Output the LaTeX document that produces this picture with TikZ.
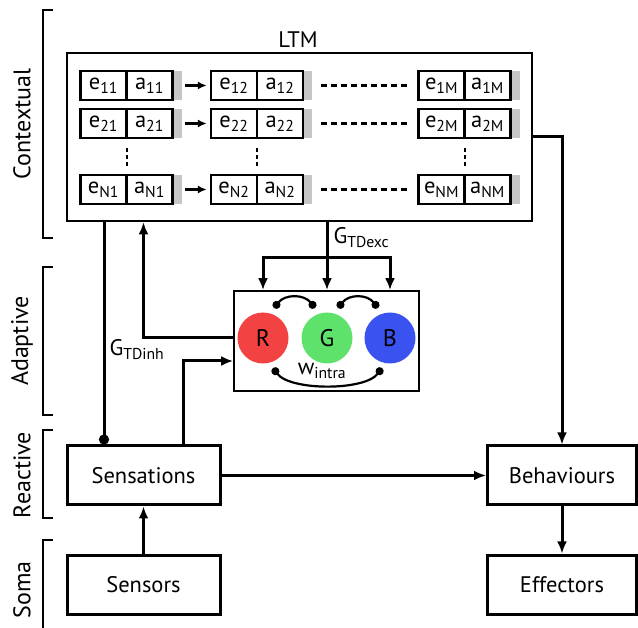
\documentclass[tikz,border=0pt]{standalone}
\usepackage{fontspec}
\setmainfont{PT Sans}
\usetikzlibrary{arrows.meta}

\definecolor{rred}{RGB}{243,66,66}
\definecolor{ggreen}{RGB}{94,226,108}
\definecolor{bblue}{RGB}{58,82,240}

\begin{document}
\begin{tikzpicture}[x=1pt, y=-1pt, font=\fontsize{22.5}{26}\selectfont,
    box/.style = {draw, line width=3pt, minimum width=153pt, minimum height=59pt},
    cell/.style = {draw, line width=2.4pt, minimum width=46pt, minimum height=29pt, inner sep=0pt},
    neuron/.style = {circle, minimum size=51pt, inner sep=0pt, font=\fontsize{24}{26}\selectfont},
    layer/.style = {rotate=90, font=\fontsize{24}{26}\selectfont},
    bracket/.style = {line width=2.2pt},
    tip/.style = {-{Latex[length=12pt, width=10pt]}, line width=3pt},
    rowtip/.style = {-{Latex[length=9pt, width=8pt]}, line width=2.2pt},
    dotted end/.style = {-{Circle[length=10pt]}, line width=3pt},
    synapse/.style = {{Circle[length=8pt]}-{Circle[length=8pt]}, line width=2.2pt},
    dashline/.style = {line width=2.2pt, dash pattern=on 6pt off 4pt},
    vdots/.style = {line width=2pt, dash pattern=on 4pt off 3pt}]
  \useasboundingbox (0,0) rectangle (638,628);

  % layers
  \draw[bracket] (53,10) -- (43,10) -- (43,238) -- (53,238);
  \draw[bracket] (53,267) -- (43,267) -- (43,415) -- (53,415);
  \draw[bracket] (53,430) -- (43,430) -- (43,518) -- (53,518);
  \draw[bracket] (53,540) -- (43,540) -- (43,628);
  \node[layer] (ctx) at (22,124) {Contextual};
  \node[layer] (adp) at (22,341) {Adaptive};
  \node[layer] (rct) at (22,475) {Reactive};
  \node[layer] (som) at (22,590) {Soma};

  % LTM
  \node[draw, line width=2.6pt, minimum width=465pt, minimum height=168pt] (ltm) at (299.5,137) {};
  \node (ltmlabel) at (298,40) {LTM};
  \foreach \r/\y in {1/85.5, 2/123.5, N/189.5}
    \foreach \c/\x in {1/103.5, 2/234, M/441.5} {
      \fill[gray!45] ({\x+69},{\y-14.5}) rectangle ++(9,29);
      \node[cell] (e\r\c) at (\x,\y) {e\textsubscript{\r\c}};
      \node[cell] (a\r\c) at ({\x+46},\y) {a\textsubscript{\r\c}};
    }
  \foreach \r in {1,2,N} {
    \draw[rowtip] ([xshift=11pt]a\r1.east) -- ([xshift=-3pt]e\r2.west);
    \draw[dashline] ([xshift=17pt]a\r2.east) -- ([xshift=-8pt]e\r M.west);
  }
  \foreach \x in {126.5,257,465}
    \draw[vdots] (\x,148) -- (\x,167);

  % RGB
  \node[draw, line width=1.8pt, minimum width=185pt, minimum height=100pt] (rgb) at (326.5,341) {};
  \node[neuron, fill=rred] (R) at (263,338) {R};
  \node[neuron, fill=ggreen] (G) at (327,338) {G};
  \node[neuron, fill=bblue] (B) at (390,338) {B};
  \draw[synapse] (274,308) .. controls (285,294) and (304,294) .. (315,308);
  \draw[synapse] (338,308) .. controls (349,294) and (367,294) .. (378,308);
  \draw[synapse] (273,368) .. controls (290,391) and (365,391) .. (382,368);
  \node (wintra) at (322,371) {w\textsubscript{intra}};

  % bottom
  \node[box] (sens) at (143.5,475.5) {Sensations};
  \node[box] (sensors) at (143.5,584.5) {Sensors};
  \node[box, minimum width=149pt] (beh) at (562,475.5) {Behaviours};
  \node[box, minimum width=149pt] (eff) at (562,584.5) {Effectors};

  % connections
  \coordinate (split) at (327,258);
  \coordinate (inhx) at (104,0);
  \coordinate (up) at (183,361);
  \draw[tip] (ltm.south -| G) -- (rgb.north -| G);
  \draw[tip] (split) -| (rgb.north -| R);
  \draw[tip] (split) -| (rgb.north -| B);
  \node[anchor=west] (gexc) at (330,238) {G\textsubscript{TDexc}};
  \draw[tip] (R -| rgb.west) -| (sens |- ltm.south);
  \draw[tip] (sens.north -| up) |- (rgb.west |- up);
  \draw[dotted end] (ltm.south -| inhx) -- (sens.north -| inhx);
  \node[anchor=west] (ginh) at (106,350) {G\textsubscript{TDinh}};
  \draw[tip] (ltm.east) -| (beh.north);
  \draw[tip] (sens) -- (beh);
  \draw[tip] (sensors) -- (sens);
  \draw[tip] (beh) -- (eff);
\end{tikzpicture}
\end{document}
